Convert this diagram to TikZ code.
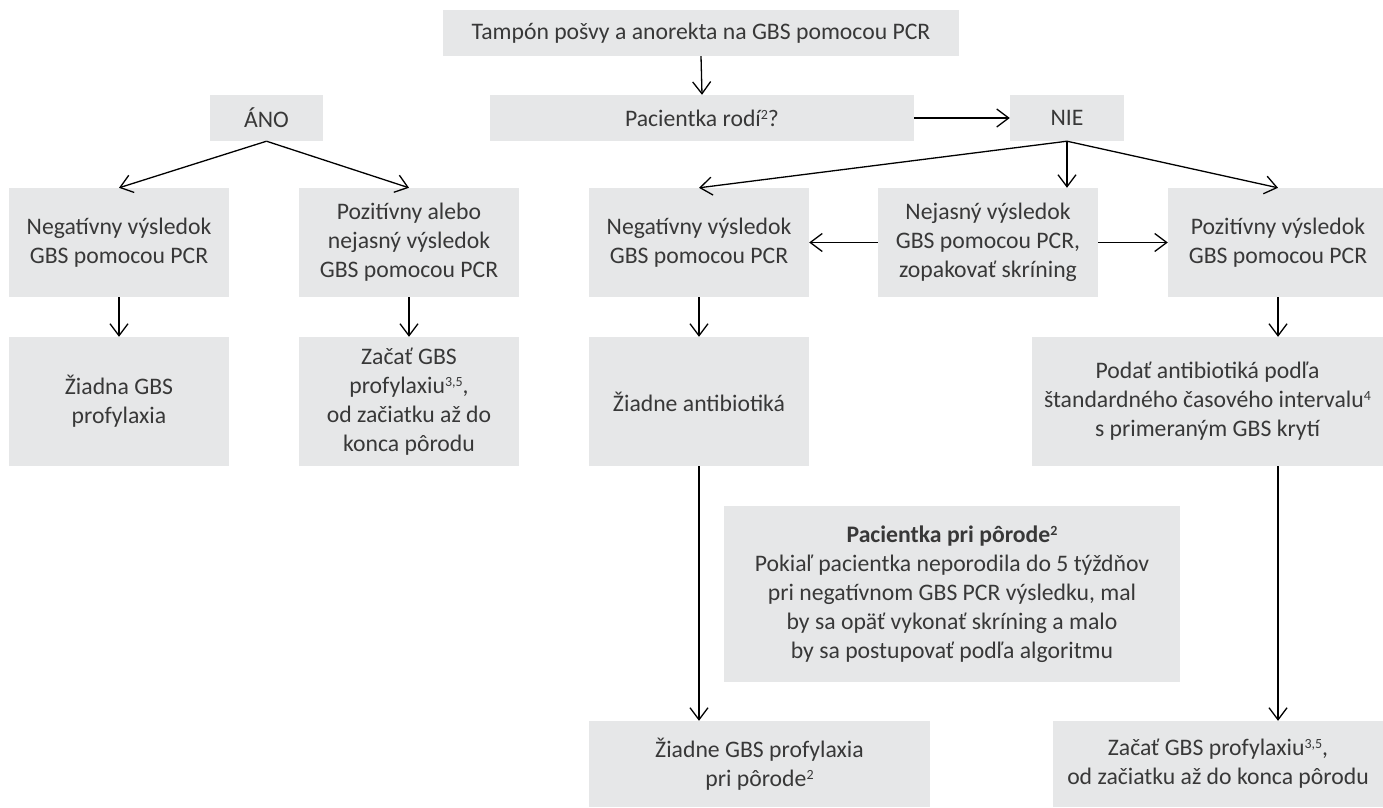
\documentclass[tikz,border=0pt]{standalone}
\usepackage{fontspec}
\setmainfont{Carlito}
\usetikzlibrary{arrows.meta}
\definecolor{boxfill}{HTML}{E6E7E8}
\definecolor{txt}{HTML}{383838}
\newcommand\supx[1]{\raisebox{7pt}{\fontsize{14}{14}\selectfont #1}}
\begin{document}
\begin{tikzpicture}[x=1pt,y=-1pt,
  box/.style={fill=boxfill, text=txt, align=center, inner sep=0pt,
    font=\fontsize{23.7}{29}\selectfont},
  arr/.style={draw=black, line width=1.3pt,
    -{Straight Barb[length=12pt,width=18pt]}}]
\useasboundingbox (0,0) rectangle (1383,807);

\node[box, minimum width=516pt, minimum height=46pt] (top) at (701,33)
  {Tampón pošvy a anorekta na GBS pomocou PCR};
\node[box, minimum width=424pt, minimum height=46pt] (pac) at (702,118)
  {Pacientka rodí\supx{2}?};
\node[box, minimum width=113pt, minimum height=46pt] (ano) at (266.5,118) {ÁNO};
\node[box, minimum width=114pt, minimum height=46pt] (nie) at (1067,118) {NIE};

\node[box, minimum width=220pt, minimum height=109pt] (aneg) at (119,242.5)
  {Negatívny výsledok\\GBS pomocou PCR};
\node[box, minimum width=220pt, minimum height=109pt] (apos) at (409,242.5)
  {Pozitívny alebo\\nejasný výsledok\\GBS pomocou PCR};
\node[box, minimum width=220pt, minimum height=129pt] (anone) at (119,401.5)
  {Žiadna GBS\\profylaxia};
\node[box, minimum width=220pt, minimum height=129pt] (astart) at (409,401.5)
  {Začať GBS\\profylaxiu\supx{3,5},\\od začiatku až do\\konca pôrodu};

\node[box, minimum width=220pt, minimum height=109pt] (nneg) at (699,242.5)
  {Negatívny výsledok\\GBS pomocou PCR};
\node[box, minimum width=220pt, minimum height=109pt] (nunc) at (988,242.5)
  {Nejasný výsledok\\GBS pomocou PCR,\\zopakovať skríning};
\node[box, minimum width=220pt, minimum height=109pt] (npos) at (1278,242.5)
  {Pozitívny výsledok\\GBS pomocou PCR};
\node[box, minimum width=220pt, minimum height=129pt] (noab) at (699,401.5)
  {Žiadne antibiotiká};
\node[box, minimum width=351pt, minimum height=129pt] (podat) at (1207.5,401.5)
  {Podať antibiotiká podľa\\štandardného časového intervalu\supx{4}\\s primeraným GBS krytí};
\node[box, minimum width=456pt, minimum height=176pt] (info) at (952,594)
  {\textbf{Pacientka pri pôrode\supx{2}}\\Pokiaľ pacientka neporodila do 5 týždňov\\pri negatívnom GBS PCR výsledku, mal\\by sa opäť vykonať skríning a malo\\by sa postupovať podľa algoritmu};
\node[box, minimum width=341pt, minimum height=86pt] (noproph) at (759.5,764)
  {Žiadne GBS profylaxia\\pri pôrode\supx{2}};
\node[box, minimum width=330pt, minimum height=86pt] (start2) at (1218,764)
  {Začať GBS profylaxiu\supx{3,5},\\od začiatku až do konca pôrodu};

\draw[arr] (top.south) -- (pac.north);
\draw[arr] (pac.east) -- (nie.west);
\draw[arr] (ano.south) -- (aneg.north);
\draw[arr] (ano.south) -- (apos.north);
\draw[arr] (aneg.south) -- (anone.north);
\draw[arr] (apos.south) -- (astart.north);
\draw[arr] (nie.south) -- (nneg.north);
\draw[arr] (nie.south) -- (nie.south |- nunc.north);
\draw[arr] (nie.south) -- (npos.north);
\draw[arr] (nunc.west) -- (nneg.east);
\draw[arr] (nunc.east) -- (npos.west);
\draw[arr] (nneg.south) -- (noab.north);
\draw[arr] (noab.south) -- (noab.south |- noproph.north);
\draw[arr] (npos.south) -- (npos.south |- podat.north);
\draw[arr] (podat.south -| npos.south) -- (start2.north -| npos.south);
\end{tikzpicture}
\end{document}
